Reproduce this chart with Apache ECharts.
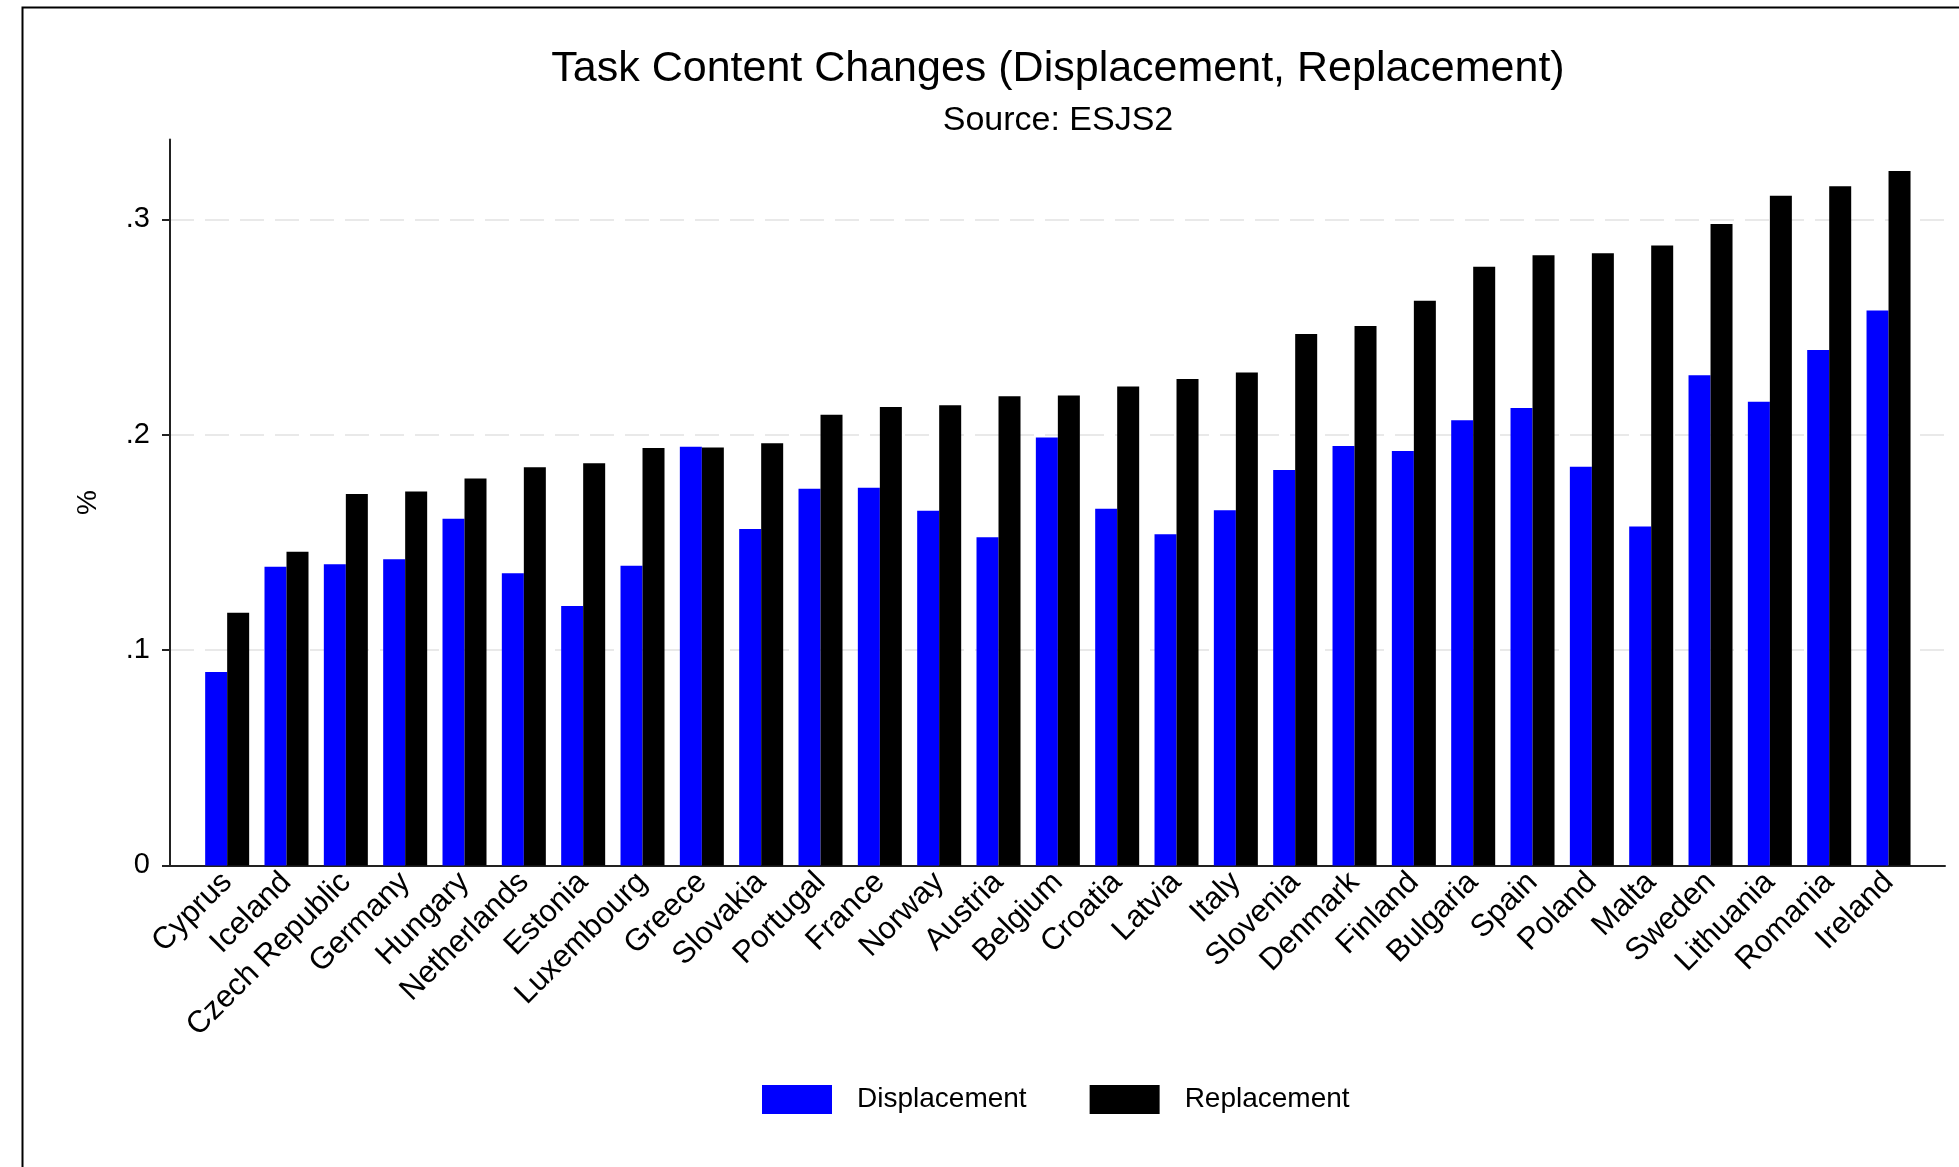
<!DOCTYPE html>
<html>
<head>
<meta charset="utf-8">
<title>Task Content Changes</title>
<script src="https://cdn.jsdelivr.net/npm/echarts@6/dist/echarts.min.js"></script>
<style>
  html, body { margin: 0; padding: 0; background: #fff; }
  #chart { width: 1959px; height: 1167px; }
</style>
</head>
<body>
<div id="chart"></div>
<script>
// data
var countries = ['Cyprus', 'Iceland', 'Czech Republic', 'Germany', 'Hungary', 'Netherlands', 'Estonia',
  'Luxembourg', 'Greece', 'Slovakia', 'Portugal', 'France', 'Norway', 'Austria', 'Belgium', 'Croatia',
  'Latvia', 'Italy', 'Slovenia', 'Denmark', 'Finland', 'Bulgaria', 'Spain', 'Poland', 'Malta', 'Sweden',
  'Lithuania', 'Romania', 'Ireland'];
var displacement = [0.0898, 0.1387, 0.1398, 0.1422, 0.1609, 0.1356, 0.1204, 0.1391, 0.1944, 0.1562,
  0.1749, 0.1753, 0.1647, 0.1524, 0.1987, 0.1656, 0.1538, 0.1649, 0.1836, 0.1947, 0.1924, 0.2067,
  0.2124, 0.1851, 0.1573, 0.2276, 0.2153, 0.2393, 0.2576];
var replacement = [0.1173, 0.1456, 0.1724, 0.1736, 0.1796, 0.1849, 0.1867, 0.1938, 0.1940, 0.1960,
  0.2093, 0.2129, 0.2136, 0.2178, 0.2182, 0.2224, 0.2258, 0.2289, 0.2467, 0.2504, 0.2622, 0.2780,
  0.2833, 0.2842, 0.2878, 0.2978, 0.3109, 0.3153, 0.3224];
var yTicks = [0, 0.1, 0.2, 0.3];
var yMax = 0.337;

var font = '"Liberation Sans", Arial, sans-serif';

function tickText(v) {
  if (v === 0) return '0';
  return v.toFixed(1).replace(/^0/, '');
}

var chart = echarts.init(document.getElementById('chart'));
chart.setOption({
  backgroundColor: '#fff',
  animation: false,
  textStyle: { fontFamily: font, color: '#000' },
  title: [
    {
      text: 'Task Content Changes (Displacement, Replacement)',
      left: 1053, top: 42, textAlign: 'center',
      textStyle: { fontFamily: font, fontSize: 43, fontWeight: 'normal', color: '#000', lineHeight: 44 }
    },
    {
      text: 'Source: ESJS2',
      left: 1053, top: 99, textAlign: 'center',
      textStyle: { fontFamily: font, fontSize: 34, fontWeight: 'normal', color: '#000', lineHeight: 34 }
    }
  ],
  legend: {
    data: ['Displacement', 'Replacement'],
    left: 757, top: 1080,
    icon: 'rect',
    itemWidth: 70, itemHeight: 29, itemGap: 63,
    textStyle: { fontFamily: font, fontSize: 28, color: '#000', padding: [0, 0, 0, 20] }
  },
  graphic: [{
    type: 'polyline',
    shape: { points: [[22.5, 1167], [22.5, 7.5], [1959, 7.5]] },
    style: { stroke: '#000', lineWidth: 2, fill: null },
    silent: true
  }],
  grid: [
    // bars
    { left: 197.5, right: 40.8, top: 139.6, bottom: 301.6 },
    // axes frame
    { left: 170, right: 14, top: 139.6, bottom: 301.6 }
  ],
  xAxis: [
    {
      type: 'category', gridIndex: 0, data: countries,
      axisLine: { show: false }, axisTick: { show: false },
      axisLabel: { rotate: 45, margin: 12, fontSize: 31, color: '#000', fontFamily: font, interval: 0 }
    },
    {
      type: 'value', gridIndex: 1, min: 0, max: 1,
      axisLine: { show: true, lineStyle: { color: '#222', width: 2 } },
      axisTick: { show: false }, axisLabel: { show: false }, splitLine: { show: false }
    }
  ],
  yAxis: [
    { type: 'value', gridIndex: 0, min: 0, max: yMax, show: false, splitLine: { show: false } },
    {
      type: 'value', gridIndex: 1, min: 0, max: yMax, interval: 0.1,
      name: '%', nameLocation: 'middle', nameGap: 68, nameRotate: 90,
      nameTextStyle: { fontFamily: font, fontSize: 28, color: '#000' },
      axisLine: { show: true, lineStyle: { color: '#222', width: 2 } },
      axisTick: { show: true, length: 8, customValues: yTicks, lineStyle: { color: '#222', width: 2 } },
      axisLabel: {
        customValues: yTicks, margin: 20, fontSize: 29, color: '#000', fontFamily: font,
        formatter: tickText
      },
      splitLine: {
        show: true, showMinLine: false, showMaxLine: true,
        lineStyle: { color: '#e2e2e2', width: 1.5, type: [24, 11] }
      }
    }
  ],
  series: [
    {
      name: 'Displacement', type: 'bar', xAxisIndex: 0, yAxisIndex: 0,
      data: displacement, barWidth: 22, barGap: '0%',
      itemStyle: { color: '#0000ff' }
    },
    {
      name: 'Replacement', type: 'bar', xAxisIndex: 0, yAxisIndex: 0,
      data: replacement, barWidth: 22, barGap: '0%',
      itemStyle: { color: '#000000' }
    }
  ]
});
</script>
</body>
</html>
